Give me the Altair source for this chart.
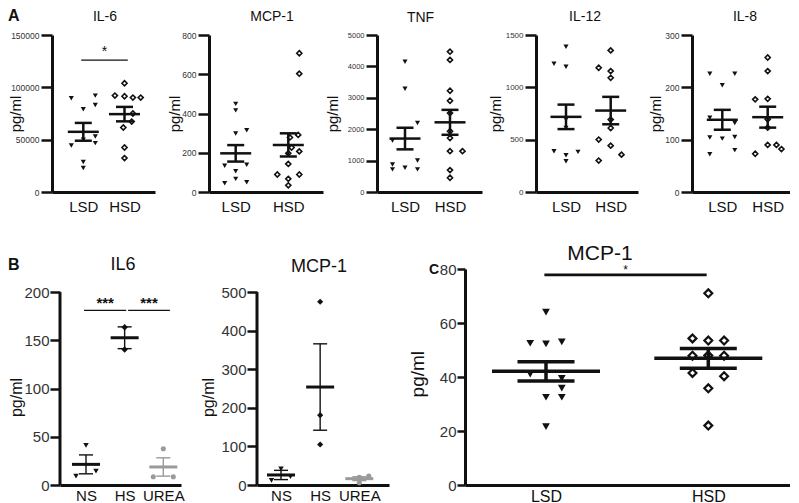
import altair as alt
import pandas as pd

FONT = "Liberation Sans"
INK = "#111111"
LABEL = "#333333"
GREY = "#9a9a9a"

# ---------------- data ----------------
A_CATS = ["LSD", "HSD"]
B_CATS = ["NS", "HS", "UREA"]

# Panel A : IL-6
IL6_LSD = [89600, 92100, 83200, 79100, 44400, 50000, 53000, 46700, 28600, 22900]
IL6_LSD_COL = [-1, 1, 1, 0, -1, 0, 1, 1, 0, 0]
IL6_HSD = [103900, 92100, 91500, 90200, 90200, 75000, 67300, 61600, 42500, 32400]
IL6_HSD_COL = [0, -0.8, 0, 0.7, 1.35, 0.7, 0.6, -0.1, 0, 0]
IL6_MEAN = [57500, 74400]
IL6_SEM = [8500, 6900]
IL6_TICKS = [0, 50000, 100000, 150000]
IL6_SIG = {"x1": [0.95], "x2": [2.08], "y": [126000], "label": ["*"]}

# Panel A : MCP-1
MCPA_LSD = [449, 416, 298, 315, 134, 139, 106, 67, 45, 50]
MCPA_LSD_COL = [0, 0, 0, 1, -1, 1, 0, 0, -1, 1]
MCPA_HSD = [707, 603, 291, 278, 227, 197, 207, 143, 89, 67, 89, 34]
MCPA_HSD_COL = [1, 1, 0.9, 0.15, 0.3, 0, 1, 0, -1, 0, 1, 0]
MCPA_MEAN = [197, 240]
MCPA_SEM = [42, 59]
MCPA_TICKS = [0, 200, 400, 600, 800]

# Panel A : TNF
TNF_LSD = [4150, 3287, 2197, 1639, 878, 720, 770, 1005, 720]
TNF_LSD_COL = [0, 0, 1, -1, -1, -1, 0, 1, 1]
TNF_HSD = [4470, 4207, 3224, 2907, 2514, 1934, 1721, 1300, 1300, 697, 453]
TNF_HSD_COL = [0, 0, 0, 0, 0, 0, 0, 0, 1, 0, 0]
TNF_MEAN = [1702, 2219]
TNF_SEM = [344, 397]
TNF_TICKS = [0, 1000, 2000, 3000, 4000, 5000]

# Panel A : IL-12
IL12_LSD = [1388, 1225, 1197, 692, 613, 389, 351, 294, 383]
IL12_LSD_COL = [0, -1, 0, 0, 0, -1, 0, 0, 1]
IL12_HSD = [1353, 1187, 1155, 1091, 692, 612, 501, 443, 357, 300]
IL12_HSD_COL = [0, -1, 0, 0, 0, 0, -1, 0, 0.9, -1]
IL12_MEAN = [718, 778]
IL12_SEM = [117, 131]
IL12_TICKS = [0, 500, 1000, 1500]

# Panel A : IL-8
IL8_LSD = [226, 226, 204, 142, 132, 104, 102, 105, 72, 80]
IL8_LSD_COL = [-1, 1, 0, -1, 1, -1, 0, 1, -1, 1]
IL8_HSD = [257, 231, 177, 178, 139, 123, 73, 90, 90, 82]
IL8_HSD_COL = [0, 0, -1, 0, 0, 0, -1, 0, 0.7, 1.1]
IL8_MEAN = [138, 143]
IL8_SEM = [19, 20]
IL8_TICKS = [0, 100, 200, 300]

# Panel B : IL6
BIL6_NS = [41, 9.3, 14.5]
BIL6_NS_COL = [0, -1, 1]
BIL6_HS = [163.7, 140.6]
BIL6_HS_COL = [0, 0]
BIL6_UREA = [37.6, 8.6, 8.6]
BIL6_UREA_COL = [0, -1, 1]
BIL6_MEAN = [21.4, 152.7, 18.7]
BIL6_SEM = [9.8, 11.3, 9.5]
BIL6_TICKS = [0, 50, 100, 150, 200]
BIL6_SIG = {"x1": [0.95, 2.09], "x2": [2.04, 3.17], "y": [181, 181], "label": ["***", "***"]}

# Panel B : MCP-1
BMCP_NS = [12, 42, 22]
BMCP_NS_COL = [-1, 0, 1]
BMCP_HS = [475, 181, 105]
BMCP_HS_COL = [0, 0, 0]
BMCP_UREA = [20, 23, 6]
BMCP_UREA_COL = [0, 1, 0]
BMCP_MEAN = [26, 254, 16.4]
BMCP_SEM = [12, 112, 5]
BMCP_TICKS = [0, 100, 200, 300, 400, 500]

# Panel C : MCP-1
C_LSD = [64, 52.5, 52.3, 53, 41.1, 39.5, 35.9, 32.5, 32.5, 21.6]
C_LSD_COL = [0, -1, 0, 1, -1, 1, 1, 0, 1, 0]
C_HSD = [71, 54.3, 53.5, 53.5, 47.9, 48, 47.9, 41.5, 40.3, 35.8, 22]
C_HSD_COL = [0, -1, 0, 1, -1, 0, 1, -1, 1, 0, 0]
C_MEAN = [42.1, 46.9]
C_SEM = [3.55, 3.7]
C_TICKS = [0, 20, 40, 60, 80]
C_SIG = {"x1": [0.99], "x2": [1.99], "y": [77.8], "label": ["*"]}


# ---------------- styles ----------------
def tri(size):
    return dict(shape="triangle-down", filled=True, fill=INK, strokeWidth=0, size=size, opacity=1)


def dia_open(size, sw):
    return dict(shape="diamond", filled=True, fill="white", stroke=INK, strokeWidth=sw, size=size, opacity=1)


def dia_full(size):
    return dict(shape="diamond", filled=True, fill=INK, strokeWidth=0, size=size, opacity=1)


def circ(size, col):
    return dict(shape="circle", filled=True, fill=col, strokeWidth=0, size=size, opacity=1)


A_STYLE = dict(domain_w=3, tick_w=2.5, tick_size=11, ylab_fs=8.5, ylab_pad=2, xlab_fs=15, xlab_pad=7,
               ytitle_fs=15, mean_w=31, mean_t=2.5, cap_w=17, cap_t=2.5, vert_t=2.5, title_fs=14,
               sig_w=1.3, sig_fs=14, sig_dy=-4, sig_weight="normal")
B_STYLE = dict(domain_w=3, tick_w=2.5, tick_size=10, ylab_fs=15, ylab_pad=1, xlab_fs=15, xlab_pad=3,
               ytitle_fs=16, mean_w=28, mean_t=3, cap_w=14, cap_t=1.4, vert_t=1.4, title_fs=18,
               sig_w=1.3, sig_fs=15, sig_dy=-2, sig_weight="bold")
C_STYLE = dict(domain_w=3, tick_w=2.5, tick_size=8, ylab_fs=15, ylab_pad=1, xlab_fs=16, xlab_pad=3,
               ytitle_fs=19, mean_w=108, mean_t=3.5, cap_w=57, cap_t=3.5, vert_t=3.5, title_fs=21,
               sig_w=2.7, sig_fs=12, sig_dy=-1, sig_weight="normal")


def text_layer(txt, x, y, fs, weight="normal", align="center"):
    df = pd.DataFrame({"t": [txt]})
    return (alt.Chart(df)
            .mark_text(align=align, baseline="alphabetic", font=FONT, fontSize=fs, fontWeight=weight, color=INK)
            .encode(x=alt.value(x), y=alt.value(y), text="t:N"))


def build_panel(cfg):
    st = dict(cfg["style"])
    cats = cfg["cats"]
    k = len(cats)
    w, h = cfg["width"], cfg["height"]
    xs = cfg.get("xshift", 0)
    cpx = cfg["centers_px"]
    unit = (cpx[-1] - cpx[0]) / (k - 1)
    d0 = 1 - cpx[0] / unit
    d1 = d0 + w / unit
    jstep = cfg["jitter_px"] / unit

    xscale = alt.Scale(domain=[d0, d1], range=[xs, xs + w], nice=False, zero=False)
    yscale = alt.Scale(domain=[0, cfg["ymax"]], nice=False, zero=False)
    names = ",".join("'" + c + "'" for c in cats)
    xaxis = alt.Axis(values=list(range(1, k + 1)), labelExpr="[" + names + "][datum.value - 1]",
                     title=None, ticks=False, tickSize=0, grid=False, domain=True, domainColor=INK,
                     domainWidth=st["domain_w"], labelFont=FONT, labelFontSize=st["xlab_fs"],
                     labelColor=INK, labelPadding=st["xlab_pad"], labelFlush=False, labelOverlap=False)
    yaxis = alt.Axis(values=cfg["ticks"], format="d", grid=False, domain=cfg.get("yline") is None,
                     domainColor=INK, domainWidth=st["domain_w"], ticks=True, tickColor=INK,
                     tickWidth=st["tick_w"], tickSize=st["tick_size"], labelFont=FONT,
                     labelFontSize=cfg.get("ylab_fs", st["ylab_fs"]), labelColor=LABEL,
                     labelPadding=st["ylab_pad"], labelOverlap=False, labelFlush=False, offset=-xs,
                     title="pg/ml", titleFont=FONT, titleFontSize=st["ytitle_fs"], titleFontWeight="normal",
                     titleColor=INK, titleAngle=270, titleBaseline="top", titleAlign="center",
                     titleX=cfg["ytitle_x"], titleY=cfg.get("ytitle_y", h / 2))

    def X(f):
        return alt.X(f + ":Q", scale=xscale, axis=xaxis)

    def Y(f):
        return alt.Y(f + ":Q", scale=yscale, axis=yaxis)

    rows = []
    for gi, grp in enumerate(cfg["groups"], start=1):
        for v, c in zip(grp["values"], grp["cols"]):
            rows.append({"g": gi, "v": v, "col": c})
    pts = pd.DataFrame(rows)

    layers = []
    if cfg.get("yline") is not None:
        yl = pd.DataFrame({"y0": [0], "y1": [cfg["yline"]]})
        layers.append(alt.Chart(yl).mark_rule(strokeWidth=st["domain_w"], color=INK)
                      .encode(x=alt.value(xs), y=Y("y0"), y2="y1:Q"))

    for gi, grp in enumerate(cfg["groups"], start=1):
        layers.append(alt.Chart(pts).transform_filter("datum.g == %d" % gi)
                      .transform_calculate(xp="datum.g + datum.col * %f" % jstep)
                      .mark_point(**grp["marker"]).encode(x=X("xp"), y=Y("v")))

    stats = pd.DataFrame({"g": list(range(1, k + 1)), "mean": cfg["means"], "sem": cfg["sems"],
                          "c": cfg["colors"]})
    base = alt.Chart(stats).transform_calculate(lo="datum.mean - datum.sem", hi="datum.mean + datum.sem")
    col = alt.Color("c:N", scale=None, legend=None)
    layers += [
        base.mark_rule(strokeWidth=st["vert_t"], opacity=1).encode(x=X("g"), y=Y("lo"), y2="hi:Q", color=col),
        base.mark_tick(orient="horizontal", size=st["cap_w"], thickness=st["cap_t"], opacity=1)
        .encode(x=X("g"), y=Y("lo"), color=col),
        base.mark_tick(orient="horizontal", size=st["cap_w"], thickness=st["cap_t"], opacity=1)
        .encode(x=X("g"), y=Y("hi"), color=col),
        base.mark_tick(orient="horizontal", size=st["mean_w"], thickness=st["mean_t"], opacity=1)
        .encode(x=X("g"), y=Y("mean"), color=col),
    ]

    if cfg.get("sig"):
        sg = pd.DataFrame(cfg["sig"])
        layers.append(alt.Chart(sg).mark_rule(strokeWidth=st["sig_w"], color=INK)
                      .encode(x=X("x1"), x2="x2:Q", y=Y("y")))
        layers.append(alt.Chart(sg).transform_calculate(xm="(datum.x1 + datum.x2) / 2")
                      .mark_text(font=FONT, fontSize=st["sig_fs"], fontWeight=st["sig_weight"],
                                 baseline="alphabetic", dy=st["sig_dy"], color=INK)
                      .encode(x=X("xm"), y=Y("y"), text="label:N"))

    # panel title
    tx = xs + w / 2 + cfg.get("title_dx", 0)
    layers.append(text_layer(cfg["title"], tx, cfg["title_y"], st["title_fs"]))

    if cfg.get("letter"):
        lx, ly, lfs = cfg["letter_pos"]
        layers.append(text_layer(cfg["letter"], xs + lx, ly, lfs, weight="bold", align="left"))

    return alt.layer(*layers).properties(width=w + xs, height=h)


def a_groups(lsd, lsd_col, hsd, hsd_col, tsize=26, dsize=26):
    return [{"values": lsd, "cols": lsd_col, "marker": tri(tsize)},
            {"values": hsd, "cols": hsd_col, "marker": dia_open(dsize, 1.6)}]


TOP_H = 157
top_cfgs = [
    dict(title="IL-6", cats=A_CATS, groups=a_groups(IL6_LSD, IL6_LSD_COL, IL6_HSD, IL6_HSD_COL),
         means=IL6_MEAN, sems=IL6_SEM, colors=[INK, INK], ticks=IL6_TICKS, ymax=150000,
         width=103, height=TOP_H, centers_px=[31.3, 72.5], jitter_px=12, style=A_STYLE,
         ytitle_x=-44, sig=IL6_SIG, letter="A", letter_pos=(-44, -14, 16), title_dx=1.5, title_y=-14),
    dict(title="MCP-1", cats=A_CATS, groups=a_groups(MCPA_LSD, MCPA_LSD_COL, MCPA_HSD, MCPA_HSD_COL),
         means=MCPA_MEAN, sems=MCPA_SEM, colors=[INK, INK], ticks=MCPA_TICKS, ymax=800,
         width=114, height=TOP_H, centers_px=[26.7, 79.3], jitter_px=11, style=A_STYLE,
         ytitle_x=-42, title_dx=6, title_y=-14),
    dict(title="TNF", cats=A_CATS, groups=a_groups(TNF_LSD, TNF_LSD_COL, TNF_HSD, TNF_HSD_COL),
         means=TNF_MEAN, sems=TNF_SEM, colors=[INK, INK], ticks=TNF_TICKS, ymax=5000,
         width=105, height=TOP_H, centers_px=[28, 73], jitter_px=12.5, style=A_STYLE,
         ytitle_x=-52, ylab_fs=7.5, title_dx=-9, title_y=-13),
    dict(title="IL-12", cats=A_CATS, groups=a_groups(IL12_LSD, IL12_LSD_COL, IL12_HSD, IL12_HSD_COL),
         means=IL12_MEAN, sems=IL12_SEM, colors=[INK, INK], ticks=IL12_TICKS, ymax=1500,
         width=102, height=TOP_H, centers_px=[30, 74.7], jitter_px=12, style=A_STYLE,
         ytitle_x=-48, ylab_fs=8, title_dx=-2, title_y=-14),
    dict(title="IL-8", cats=A_CATS, groups=a_groups(IL8_LSD, IL8_LSD_COL, IL8_HSD, IL8_HSD_COL),
         means=IL8_MEAN, sems=IL8_SEM, colors=[INK, INK], ticks=IL8_TICKS, ymax=300,
         width=98, height=TOP_H, centers_px=[30.3, 75.7], jitter_px=12.5, style=A_STYLE,
         ytitle_x=-44, title_dx=4, title_y=-14),
]

BOT_H = 216
bot_cfgs = [
    dict(title="IL6", cats=B_CATS,
         groups=[{"values": BIL6_NS, "cols": BIL6_NS_COL, "marker": tri(30)},
                 {"values": BIL6_HS, "cols": BIL6_HS_COL, "marker": dia_full(42)},
                 {"values": BIL6_UREA, "cols": BIL6_UREA_COL, "marker": circ(26, GREY)}],
         means=BIL6_MEAN, sems=BIL6_SEM, colors=[INK, INK, GREY], ticks=BIL6_TICKS, ymax=224,
         yline=200, width=121, height=BOT_H, xshift=8, centers_px=[26, 103.3], jitter_px=10,
         style=B_STYLE, ytitle_x=-52, ytitle_y=128, sig=BIL6_SIG, letter="B",
         letter_pos=(-52, 1.3, 16), title_dx=2.5, title_y=1),
    dict(title="MCP-1", cats=B_CATS,
         groups=[{"values": BMCP_NS, "cols": BMCP_NS_COL, "marker": tri(30)},
                 {"values": BMCP_HS, "cols": BMCP_HS_COL, "marker": dia_full(38)},
                 {"values": BMCP_UREA, "cols": BMCP_UREA_COL, "marker": circ(26, GREY)}],
         means=BMCP_MEAN, sems=BMCP_SEM, colors=[INK, INK, GREY], ticks=BMCP_TICKS, ymax=560,
         yline=500, width=132, height=BOT_H, centers_px=[24, 102.3], jitter_px=9.5, style=B_STYLE,
         ytitle_x=-57, ytitle_y=128, title_dx=-4, title_y=3),
    dict(title="MCP-1", cats=A_CATS,
         groups=[{"values": C_LSD, "cols": C_LSD_COL, "marker": tri(60)},
                 {"values": C_HSD, "cols": C_HSD_COL, "marker": dia_open(62, 2.2)}],
         means=C_MEAN, sems=C_SEM, colors=[INK, INK], ticks=C_TICKS, ymax=80,
         width=325, height=BOT_H, centers_px=[81, 243.3], jitter_px=15.8, style=C_STYLE,
         ytitle_x=-57, ytitle_y=104.7, sig=C_SIG, letter="C", letter_pos=(-36, 5, 14),
         title_dx=-27.5, title_y=-9.5),
]

row1 = alt.hconcat(*[build_panel(c) for c in top_cfgs], spacing=54, bounds="flush")
row2 = alt.hconcat(*[build_panel(c) for c in bot_cfgs], spacing=76, bounds="flush")

chart = (alt.concat(row1, row2, columns=1, align="none", spacing=28, bounds="full")
         .properties(padding=0)
         .configure_view(strokeWidth=0))

chart.save("out.html", embed_options={"renderer": "svg", "actions": False})
